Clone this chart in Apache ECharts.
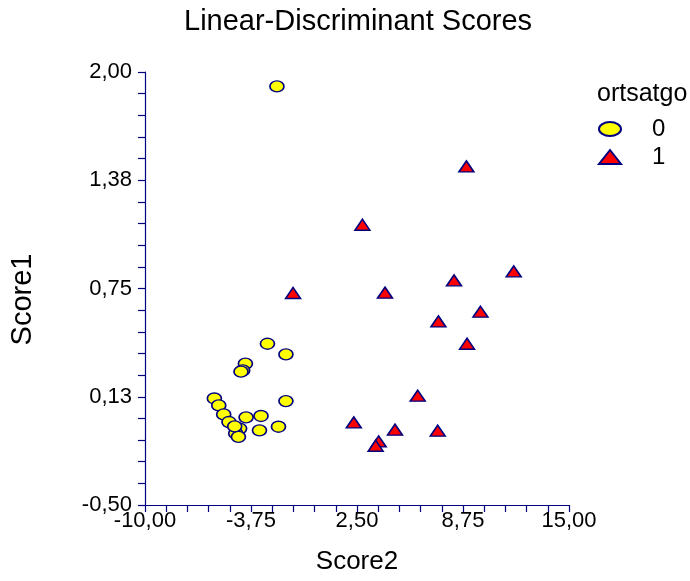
<!DOCTYPE html>
<html>
<head>
<meta charset="utf-8">
<script src="https://cdn.jsdelivr.net/npm/echarts@6/dist/echarts.min.js"></script>
<style>
  html, body { margin: 0; padding: 0; background: #fff; }
  #chart { width: 690px; height: 581px; }
</style>
</head>
<body>
<div id="chart"></div>
<script>
// group ortsatgo = 0 (yellow ellipses)
var group0X = [-2.22, -2.78, -1.69, -4.08, -4.24, -4.34, -5.91, -5.65, -5.36, -5.05,
               -4.04, -3.16, -1.69, -2.13, -3.25, -4.42, -4.65, -4.49, -4.71];
var group0Y = [1.917, 0.431, 0.370, 0.316, 0.277, 0.270, 0.115, 0.075, 0.023, -0.021,
               0.006, 0.014, 0.100, -0.048, -0.069, -0.059, -0.087, -0.107, -0.046];
// group ortsatgo = 1 (red triangles)
var group1X = [8.95, 2.82, 11.74, 8.22, -1.27, 4.15, 9.78, 7.30, 8.99, 6.08,
               2.31, 4.74, 7.26, 3.78, 3.60];
var group1Y = [1.455, 1.118, 0.849, 0.797, 0.724, 0.726, 0.616, 0.560, 0.431, 0.131,
               -0.023, -0.065, -0.071, -0.133, -0.158];

var xTickLabels = ['-10,00', '-3,75', '2,50', '8,75', '15,00'];
var yTickLabels = ['-0,50', '0,13', '0,75', '1,38', '2,00'];

var navy = '#000080';
var font = 'Liberation Sans, Arial, sans-serif';
// legend ellipse (the built-in circle stays round in the legend)
var ellipseIcon = 'path://M0,50A50,50,0,1,1,100,50A50,50,0,1,1,0,50Z';

function pairs(xs, ys) {
    return xs.map(function (x, i) { return [x, ys[i]]; });
}

var chart = echarts.init(document.getElementById('chart'));

var option = {
    animation: false,
    title: [
        {
            text: 'Linear-Discriminant Scores',
            left: 179,
            top: 2,
            textStyle: { fontFamily: font, fontSize: 29, fontWeight: 'normal', color: '#000' }
        },
        {
            text: 'ortsatgo',
            left: 597,
            top: 82,
            padding: 0,
            textStyle: { fontFamily: font, fontSize: 25, fontWeight: 'normal', color: '#000' }
        }
    ],
    legend: {
        orient: 'vertical',
        left: 598,
        top: 117,
        padding: 0,
        itemWidth: 22,
        itemHeight: 14,
        itemGap: 4,
        symbolKeepAspect: false,
        textStyle: { fontFamily: font, fontSize: 24, color: '#000', padding: [0, 0, 0, 26] },
        data: [
            { name: '0', icon: ellipseIcon },
            { name: '1' }
        ]
    },
    grid: { left: 145, top: 72, width: 424, height: 433 },
    xAxis: {
        type: 'value',
        min: -10,
        max: 15,
        interval: 1.25,
        name: 'Score2',
        nameLocation: 'middle',
        nameGap: 44,
        nameTextStyle: { fontFamily: font, fontSize: 26, color: '#000' },
        axisLine: { show: true, onZero: false, lineStyle: { color: navy, width: 1.2 } },
        axisTick: { show: true, inside: false, length: 7, lineStyle: { color: navy, width: 1.2 } },
        axisLabel: {
            margin: 5,
            fontFamily: font,
            fontSize: 22,
            color: '#000',
            formatter: function (v, i) { return i % 5 === 0 ? xTickLabels[i / 5] : ''; }
        },
        splitLine: { show: false }
    },
    yAxis: {
        type: 'value',
        min: -0.5,
        max: 2,
        interval: 0.125,
        name: 'Score1',
        nameLocation: 'middle',
        nameRotate: 90,
        nameGap: 108,
        nameTextStyle: { fontFamily: font, fontSize: 29, color: '#000', padding: [0, 22, 0, 0] },
        axisLine: { show: true, onZero: false, lineStyle: { color: navy, width: 1.2 } },
        axisTick: { show: true, inside: false, length: 7, lineStyle: { color: navy, width: 1.2 } },
        axisLabel: {
            margin: 13,
            fontFamily: font,
            fontSize: 22,
            color: '#000',
            formatter: function (v, i) { return i % 5 === 0 ? yTickLabels[i / 5] : ''; }
        },
        splitLine: { show: false }
    },
    series: [
        {
            name: '0',
            type: 'scatter',
            symbol: 'circle',
            symbolSize: [14, 11],
            itemStyle: { color: '#ffff00', borderColor: navy, borderWidth: 1.5, opacity: 1 },
            data: pairs(group0X, group0Y)
        },
        {
            name: '1',
            type: 'scatter',
            symbol: 'triangle',
            symbolSize: [15, 11],
            itemStyle: { color: '#ff0000', borderColor: navy, borderWidth: 1.5, opacity: 1 },
            data: pairs(group1X, group1Y)
        }
    ]
};

chart.setOption(option);
</script>
</body>
</html>
